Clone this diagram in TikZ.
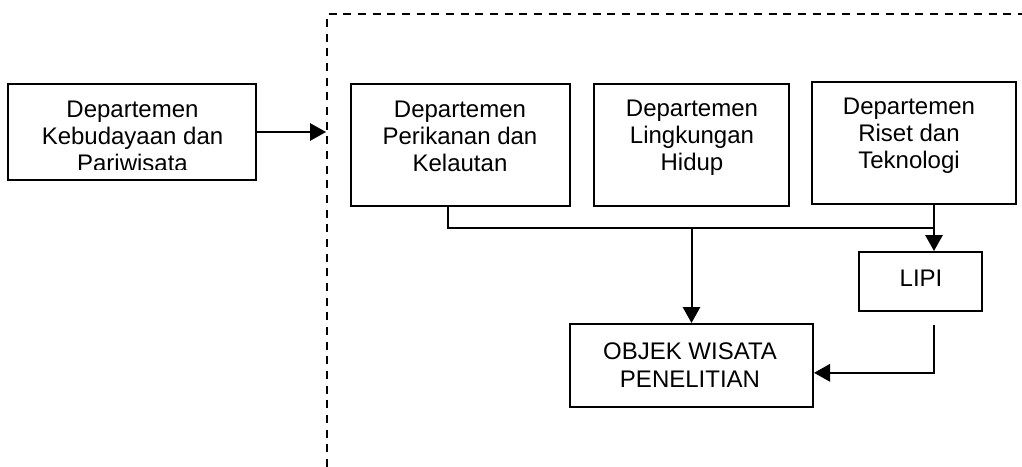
\documentclass[tikz,border=0pt]{standalone}
\usepackage{fontspec}
\setmainfont{Liberation Sans}
\usetikzlibrary{arrows.meta}
\tikzset{
  kotak/.style={draw, line width=1.5pt, rectangle, inner sep=0pt},
  tulisan/.style={inner sep=0pt, anchor=north, align=center, font=\fontsize{18pt}{20pt}\selectfont},
  panah/.style={line width=1.5pt, -{Triangle[length=12pt, width=13pt]}},
  garis/.style={line width=1.5pt},
  batas/.style={line width=1.5pt, dash pattern=on 6pt off 5pt}
}

\begin{document}
\begin{tikzpicture}[x=0.75pt, y=-0.75pt]
			%%%%% START %%%%%
			\useasboundingbox (0, 0) rectangle (1022, 467);

			% dashed border
			\draw[batas] (327, 467) -- (327, 14) -- (1022, 14);

			% boxes
			\node[kotak, minimum width=186pt, minimum height=72pt] (kb) at (132, 132) {};
			\node[kotak, minimum width=164.25pt, minimum height=91.5pt] (dkp) at (460.5, 145) {};
			\node[kotak, minimum width=146.25pt, minimum height=91.5pt] (lh) at (691.5, 145) {};
			\node[kotak, minimum width=153pt, minimum height=91.5pt] (rt) at (914, 143) {};
			\node[kotak, minimum width=92.25pt, minimum height=44.25pt] (lipi) at (920.5, 281.5) {};
			\node[kotak, minimum width=182.25pt, minimum height=62.25pt] (owp) at (691.5, 365.5) {};

			% texts
			\begin{scope}
				\clip (8, 84) rectangle (256, 169);
				\node[tulisan] (kb-t) at (132.5, 101) {Departemen\\Kebudayaan dan\\Pariwisata};
			\end{scope}
			\node[tulisan] (dkp-t) at (460, 101) {Departemen\\Perikanan dan\\Kelautan};
			\node[tulisan] (lh-t) at (692, 100) {Departemen\\Lingkungan\\Hidup};
			\node[tulisan] (rt-t) at (909, 98) {Departemen\\Riset dan\\Teknologi};
			\node[tulisan] (lipi-t) at (921, 270) {LIPI};
			\node[tulisan, font=\fontsize{18pt}{21.5pt}\selectfont] (owp-t) at (690, 342) {OBJEK WISATA\\PENELITIAN};

			% connectors
			\coordinate (gate) at (326, 132);
			\coordinate (bus-l) at (448, 228);
			\coordinate (bus-m) at (691.5, 228);
			\coordinate (bus-r) at (934, 228);

			\draw[panah] (kb.east) -- (gate);
			\draw[garis] (dkp.south -| bus-l) -- (bus-l) -- (bus-r) -- (rt.south -| bus-r);
			\draw[panah] (bus-m) -- (owp.north);
			\draw[panah] (bus-r) -- (lipi.north -| bus-r);
			\draw[panah, shorten <=9.75pt] (lipi.south -| bus-r) |- ([yshift=-5.5pt]owp.east);

			%%%%% END %%%%%
\end{tikzpicture}
\end{document}
